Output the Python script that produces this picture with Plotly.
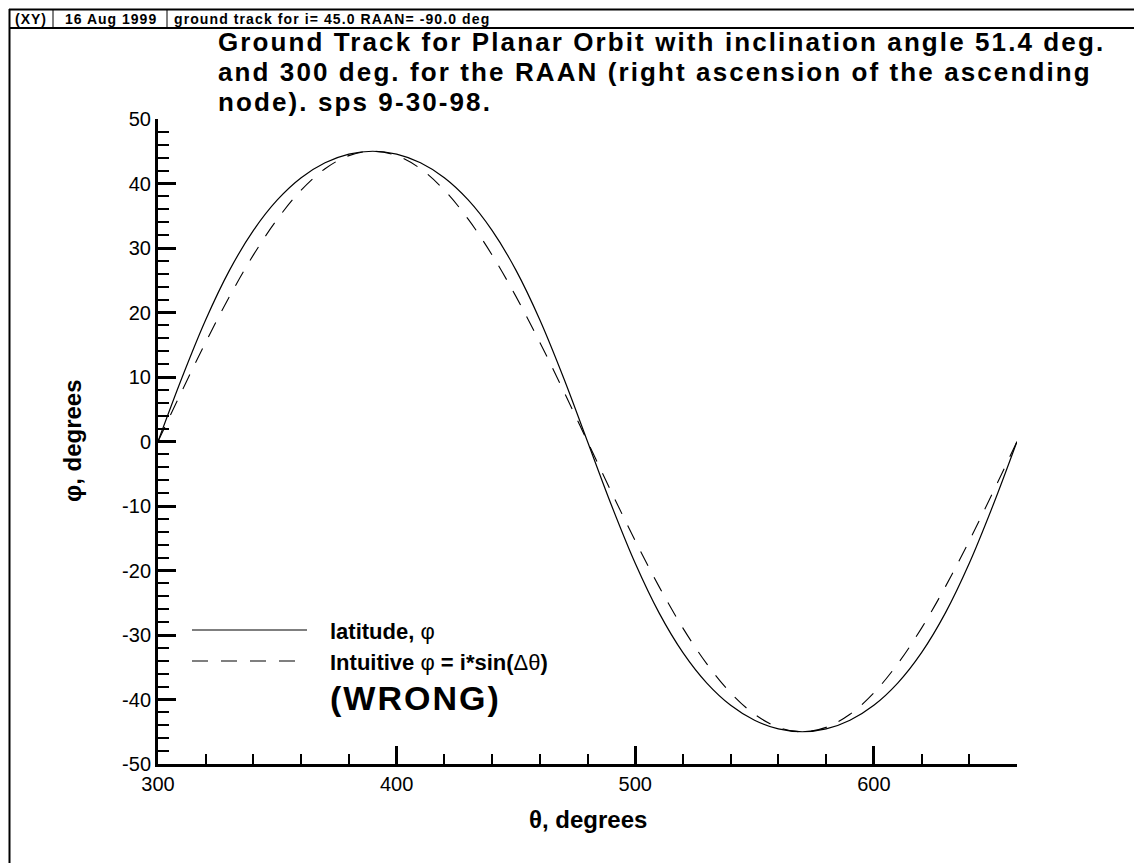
import plotly.graph_objects as go

# ---- data ----
theta_deg = [300, 310, 320, 330, 340, 350, 360, 370, 380, 390, 400, 410, 420, 430, 440, 450, 460, 470, 480,
             490, 500, 510, 520, 530, 540, 550, 560, 570, 580, 590, 600, 610, 620, 630, 640, 650, 660]
latitude = [0.0, 9.85, 18.88, 26.57, 32.73, 37.45, 40.89, 43.21, 44.56, 45.0, 44.56, 43.21, 40.89, 37.45,
            32.73, 26.57, 18.88, 9.85, 0.0, -9.85, -18.88, -26.57, -32.73, -37.45, -40.89, -43.21, -44.56,
            -45.0, -44.56, -43.21, -40.89, -37.45, -32.73, -26.57, -18.88, -9.85, 0.0]
intuitive = [0.0, 7.81, 15.39, 22.5, 28.93, 34.47, 38.97, 42.29, 44.32, 45.0, 44.32, 42.29, 38.97, 34.47,
             28.93, 22.5, 15.39, 7.81, 0.0, -7.81, -15.39, -22.5, -28.93, -34.47, -38.97, -42.29, -44.32,
             -45.0, -44.32, -42.29, -38.97, -34.47, -28.93, -22.5, -15.39, -7.81, 0.0]
x_ticks = [300, 400, 500, 600]
y_ticks = [50, 40, 30, 20, 10, 0, -10, -20, -30, -40, -50]

W, H = 1142, 863
OFF = 8  # page body margin
L, R, T, B = 158, 1017, 119, 764   # plot area in screen pixels
FONT = "Liberation Sans, Arial, Helvetica, sans-serif"


def px(x):
    return (x - L) / (R - L)


def py(y):
    return (B - y) / (B - T)


fig = go.Figure()
fig.add_trace(go.Scatter(x=theta_deg, y=latitude, mode="lines",
                         line=dict(color="black", width=1.2, shape="spline"), showlegend=False))
fig.add_trace(go.Scatter(x=theta_deg, y=intuitive, mode="lines",
                         line=dict(color="black", width=1.1, dash="16px,13px", shape="spline"), showlegend=False))

axis_common = dict(showline=True, linecolor="black", linewidth=3, showgrid=False, zeroline=False,
                   ticks="inside", tickcolor="black", tickwidth=3, ticklen=18,
                   tickfont=dict(family=FONT, size=20, color="black"), mirror=False)
fig.update_xaxes(range=[300, 660], tickvals=x_ticks, ticktext=[str(v) for v in x_ticks],
                 minor=dict(dtick=20, tick0=300, ticks="inside", ticklen=10, tickwidth=1.5, tickcolor="black"),
                 **axis_common)
fig.update_yaxes(range=[-50, 50], tickvals=y_ticks, ticktext=[str(v) for v in y_ticks],
                 minor=dict(dtick=2, tick0=0, ticks="inside", ticklen=11, tickwidth=1.5, tickcolor="black"),
                 **axis_common)

shapes = []
# frame / header
shapes.append(dict(type="line", xref="paper", yref="paper", x0=px(9), x1=px(W + 20), y0=py(9.5), y1=py(9.5),
                   line=dict(color="black", width=2)))
shapes.append(dict(type="line", xref="paper", yref="paper", x0=px(9), x1=px(W + 20), y0=py(28), y1=py(28),
                   line=dict(color="black", width=2)))
shapes.append(dict(type="line", xref="paper", yref="paper", x0=px(9.5), x1=px(9.5), y0=py(9), y1=py(H + 20),
                   line=dict(color="black", width=2)))
for sx in (53, 167):
    shapes.append(dict(type="line", xref="paper", yref="paper", x0=px(sx), x1=px(sx), y0=py(10), y1=py(28),
                       line=dict(color="black", width=1)))
# legend samples
shapes.append(dict(type="line", xref="paper", yref="paper", x0=px(192), x1=px(307), y0=py(630), y1=py(630),
                   line=dict(color="black", width=1.2)))
shapes.append(dict(type="line", xref="paper", yref="paper", x0=px(192), x1=px(307), y0=py(661), y1=py(661),
                   line=dict(color="black", width=1.1, dash="16px,13px")))

ann = []


def text(x, y, s, size, xanchor="left", bold=True, angle=0, yanchor="middle"):
    ann.append(dict(x=px(x), y=py(y), xref="paper", yref="paper", text=s, showarrow=False,
                    xanchor=xanchor, yanchor=yanchor, textangle=angle,
                    font=dict(family=FONT, size=size, color="black", weight="bold" if bold else "normal")))


def spaced(s, sp):
    return '<span style="letter-spacing:%spx">%s</span>' % (sp, s)


text(13, 19, spaced("(XY)", 1), 14)
text(63, 19, spaced("16 Aug 1999", 1), 14)
text(172, 19, spaced("ground track for i= 45.0 RAAN= -90.0 deg", 1.1), 14)

text(216, 42, spaced("Ground Track for Planar Orbit with inclination angle 51.4 deg.", 2.1), 26)
text(216, 72, spaced("and 300 deg. for the RAAN (right ascension of the ascending", 2.1), 26)
text(216, 102, spaced("node). sps 9-30-98.", 2.1), 26)

text(328, 631, "<b>latitude, </b>φ", 22, bold=False)
text(328, 662, "<b>Intuitive </b>φ<b> = i*sin(</b>Δθ<b>)</b>", 22, bold=False)
text(415, 698, spaced("(WRONG)", 2), 34, xanchor="center")

text(588, 820, "<b>θ, degrees</b>", 24, xanchor="center", bold=False)
text(72, 441, "<b>φ, degrees</b>", 24, xanchor="center", bold=False, angle=-90)

fig.update_layout(width=W, height=H,
                  margin=dict(l=L - OFF, r=W + OFF - R, t=T - OFF, b=H + OFF - B),
                  paper_bgcolor="white", plot_bgcolor="white", shapes=shapes, annotations=ann,
                  showlegend=False, font=dict(family=FONT, color="black"))

fig.write_html("out.html")
